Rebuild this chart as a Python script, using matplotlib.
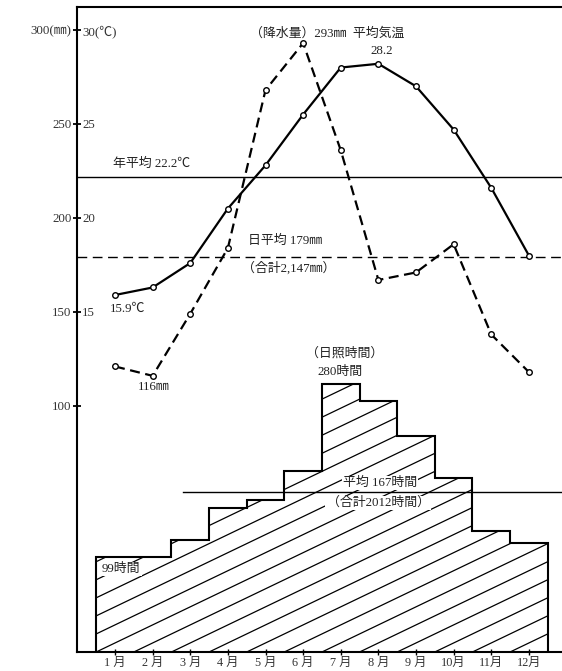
import numpy as np
import matplotlib
matplotlib.use("Agg")
import matplotlib.pyplot as plt
from matplotlib.lines import Line2D
from matplotlib.transforms import IdentityTransform

# ---------------- data ----------------
months = list(range(1, 13))
month_labels = ['1 月', '2 月', '3 月', '4 月', '5 月', '6 月',
                '7 月', '8 月', '9 月', '10月', '11月', '12月']
temperature = [15.9, 16.3, 17.6, 20.5, 22.8, 25.5, 28.0, 28.2, 27.0, 24.7, 21.6, 18.0]   # deg C
precipitation = [121, 116, 149, 184, 268, 293, 236, 167, 171, 186, 138, 118]            # mm
sunshine = [99, 99, 117, 150, 159, 189, 280, 262, 225, 182, 126, 114]                    # hours

temp_mean = 22.2
precip_mean = 179
precip_total = '2,147'
sun_mean = 167
sun_total = 2012

mm_ticks = [100, 150, 200, 250, 300]
mm_tick_labels = ['100', '150', '200', '250', '300(㎜)']
temp_ticks = [15, 20, 25, 30]
temp_tick_labels = ['15', '20', '25', '30(℃)']

# ---------------- style ----------------
FONT = ['Liberation Serif', 'Noto Sans CJK JP', 'DejaVu Sans']
plt.rcParams['font.family'] = FONT
FS = 9.3

W, H = 562, 671
fig = plt.figure(figsize=(W / 100, H / 100), dpi=100)
fig.patch.set_facecolor('white')

AX_L, AX_R, AX_T, AX_B = 77, 562, 7, 652
ax = fig.add_axes([AX_L / W, (H - AX_B) / H, (AX_R - AX_L) / W, (AX_B - AX_T) / H])

def P(x, y):
    """pixel position in the picture -> axes fraction"""
    return ((x - AX_L) / (AX_R - AX_L), (AX_B - y) / (AX_B - AX_T))

mm_lim = (-30.9, 312.2)
xlim = (-0.01, 12.88)
ax.set_xlim(*xlim)
ax.set_ylim(*mm_lim)

ax_t = ax.twinx()
ax_t.set_ylim(mm_lim[0] / 10, mm_lim[1] / 10)
ax_s = ax.twinx()
ax_s.set_ylim(0, 673)

for a in (ax_t, ax_s):
    for s in a.spines.values():
        s.set_visible(False)
ax.spines['right'].set_visible(False)
for s in ('left', 'top', 'bottom'):
    ax.spines[s].set_linewidth(1.5)

# y ticks (mm) on the left
ax.set_yticks(mm_ticks, labels=mm_tick_labels)
ax.tick_params(axis='y', direction='inout', length=6, width=1.3, pad=1, labelsize=FS,
               labelcolor='#333333')
# temperature labels inside the frame
ax_t.yaxis.tick_left()
ax_t.set_yticks(temp_ticks, labels=temp_tick_labels)
ax_t.tick_params(axis='y', length=0, pad=-3.8, labelsize=FS, labelcolor='#333333')
for lab in ax_t.get_yticklabels():
    lab.set_horizontalalignment('left')
ax_s.set_yticks([])

# x ticks
ax.set_xticks(months, labels=month_labels)
ax.tick_params(axis='x', direction='inout', length=5, width=1.0, pad=1, labelsize=8.8,
               labelcolor='#333333')

# ---------------- reference lines ----------------
ax_t.axhline(temp_mean, color='black', lw=1.0)
ax.axhline(precip_mean, color='black', lw=1.0, dashes=(7, 4))
ax_s.axhline(sun_mean, xmin=P(183, 0)[0], xmax=1, color='black', lw=1.0)

# ---------------- sunshine steps ----------------
edges = np.arange(0.5, 13, 1.0)
outline = ax_s.stairs(sunshine, edges, baseline=0, fill=False, color='black', lw=1.5, zorder=3)
clipper = ax_s.stairs(sunshine, edges, baseline=0, fill=True, facecolor='none',
                      edgecolor='none', zorder=1)

# shallow diagonal hatch, clipped to the step area
pts = ax_s.transData.transform(np.column_stack([edges, np.zeros_like(edges)]))
sp = pts[1, 0] - pts[0, 0]
x0, yb = pts[0, 0], pts[0, 1]
slope = 0.48
for k in range(-25, 20):
    xs = x0 + k * sp
    L = 900
    ln = Line2D([xs, xs + L], [yb, yb + L * slope], color='black', lw=0.9,
                transform=IdentityTransform(), zorder=2)
    ln.set_clip_path(clipper)
    ax_s.add_artist(ln)
    ln.set_clip_path(clipper)

# ---------------- line series ----------------
ax_t.plot(months, temperature, color='black', lw=1.6, marker='o', ms=4,
          mfc='white', mec='black', mew=1.0, zorder=5)
ax.plot(months, precipitation, color='black', lw=1.6, dashes=(4.5, 2.5), marker='o', ms=4,
        mfc='white', mec='black', mew=1.0, zorder=5)

# ---------------- annotations ----------------
def T(x, y, s, ha='left', box=False, size=FS):
    kw = {}
    if box:
        kw['bbox'] = dict(boxstyle='square,pad=0.1', fc='white', ec='none')
    ax_s.text(*P(x, y), s, transform=ax_s.transAxes, ha=ha, va='center',
              fontsize=size, zorder=6, color='#222222', **kw)

T(250, 34, f'（降水量）{precipitation[5]}㎜  平均気温')
T(382, 51, f'{max(temperature)}', ha='center')
T(113, 164, f'年平均 {temp_mean}℃')
T(248, 241, f'日平均 {precip_mean}㎜')
T(242, 268, f'（合計{precip_total}㎜）')
T(110, 309, f'{temperature[0]}℃')
T(138, 387, f'{min(precipitation)}㎜')
T(345, 353, '（日照時間）', ha='center')
T(340, 372, f'{max(sunshine)}時間', ha='center')
T(380, 483, f'平均 {sun_mean}時間', ha='center', box=True)
T(378, 503, f'（合計{sun_total}時間）', ha='center', box=True)
T(102, 569, f'{min(sunshine)}時間', box=True)

fig.savefig('out.png', dpi=100, facecolor='white')
